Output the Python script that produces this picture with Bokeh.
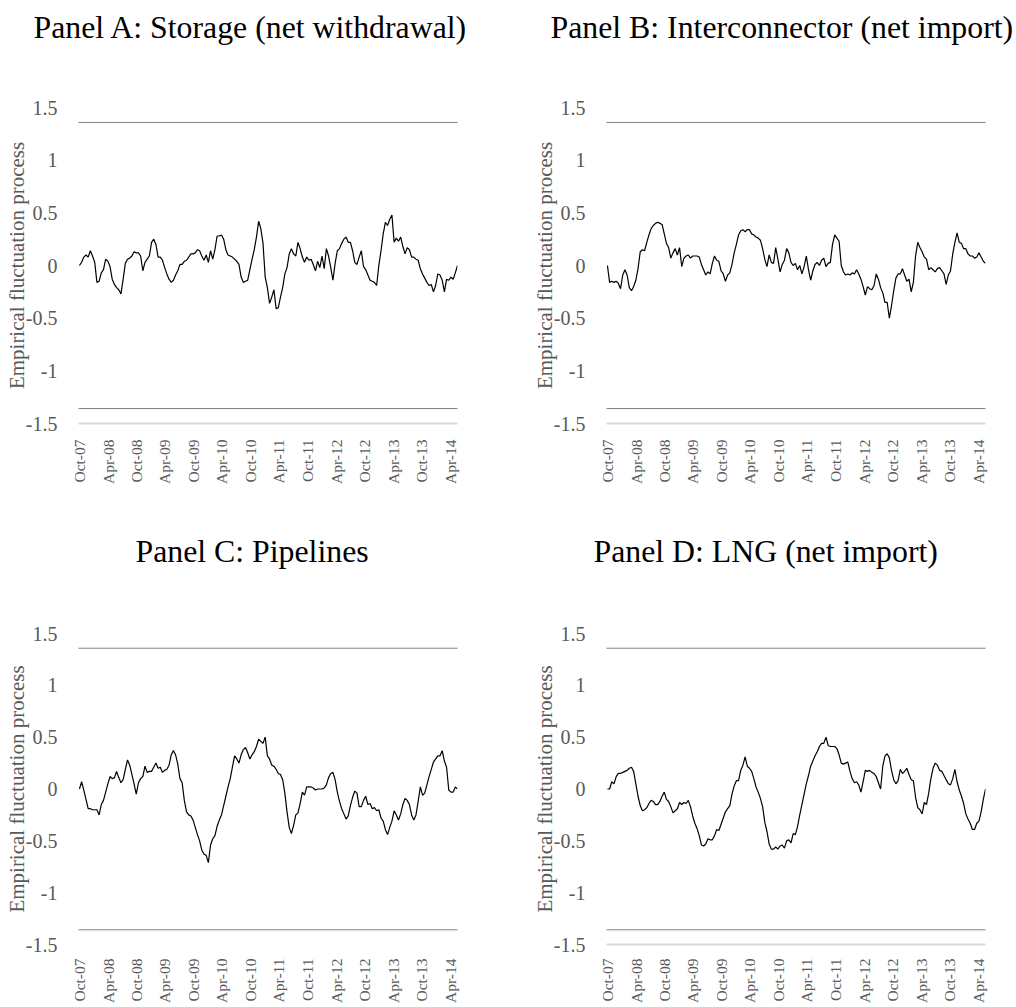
import pandas as pd
from bokeh.plotting import figure
from bokeh.layouts import column, row
from bokeh.models import Range1d, FixedTicker, CustomJSTickFormatter, Span, Title
from bokeh.embed import file_html
from bokeh.resources import INLINE

# ---------------- data ----------------
START = "2007-10-01"
STEP_DAYS = 14
X_START = "2007-09-25"
X_END = "2014-05-19"
TICK_DATES = ["2007-10-01", "2008-04-01", "2008-10-01", "2009-04-01", "2009-10-01",
              "2010-04-01", "2010-10-01", "2011-04-01", "2011-10-01", "2012-04-01",
              "2012-10-01", "2013-04-01", "2013-10-01", "2014-04-01"]
Y_TICKS = [-1.5, -1, -0.5, 0, 0.5, 1, 1.5]
CRIT = 1.358

TITLES = ["Panel A: Storage (net withdrawal)", "Panel B: Interconnector (net import)",
          "Panel C: Pipelines", "Panel D: LNG (net import)"]
Y_LABEL = "Empirical fluctuation process"

storage = [
    0.00, 0.03, 0.08, 0.10, 0.08, 0.14, 0.09, 0.03, -0.16, -0.15,
    -0.07, -0.04, 0.06, 0.04, -0.01, -0.13, -0.18, -0.21, -0.23, -0.27,
    -0.13, 0.02, 0.06, 0.07, 0.09, 0.13, 0.12, 0.12, 0.09, -0.05,
    0.03, 0.06, 0.09, 0.22, 0.25, 0.20, 0.08, 0.08, 0.05, -0.02,
    -0.08, -0.13, -0.16, -0.14, -0.09, -0.05, 0.01, 0.01, 0.04, 0.05,
    0.08, 0.11, 0.11, 0.12, 0.15, 0.14, 0.09, 0.05, 0.10, 0.03,
    0.14, 0.06, 0.15, 0.28, 0.28, 0.29, 0.25, 0.15, 0.10, 0.09,
    0.08, 0.06, 0.04, 0.01, -0.11, -0.16, -0.15, -0.14, -0.04, 0.06,
    0.15, 0.27, 0.42, 0.35, 0.21, -0.11, -0.21, -0.36, -0.30, -0.23,
    -0.41, -0.40, -0.30, -0.21, -0.08, -0.02, 0.11, 0.16, 0.11, 0.09,
    0.22, 0.16, 0.08, 0.03, 0.08, 0.05, 0.06, 0.01, -0.05, 0.04,
    -0.02, 0.09, -0.03, 0.16, 0.09, -0.02, -0.14, 0.02, 0.14, 0.16,
    0.21, 0.25, 0.27, 0.22, 0.22, 0.14, 0.03, 0.01, 0.08, 0.14,
    -0.01, -0.04, -0.09, -0.14, -0.15, -0.16, -0.19, 0.00, 0.14, 0.30,
    0.41, 0.38, 0.44, 0.48, 0.22, 0.26, 0.23, 0.27, 0.18, 0.11,
    0.17, 0.15, 0.08, 0.08, 0.06, 0.05, -0.03, -0.08, -0.12, -0.16,
    -0.19, -0.18, -0.25, -0.19, -0.08, -0.09, -0.14, -0.25, -0.13, -0.14,
    -0.11, -0.13, -0.07, 0.00]

interconnector = [
    0.00, -0.16, -0.15, -0.16, -0.15, -0.17, -0.22, -0.09, -0.04, -0.09,
    -0.21, -0.24, -0.20, -0.14, -0.03, 0.13, 0.15, 0.14, 0.22, 0.29,
    0.35, 0.38, 0.40, 0.41, 0.40, 0.39, 0.30, 0.21, 0.17, 0.07,
    0.12, 0.16, 0.10, 0.17, -0.01, 0.07, 0.09, 0.10, 0.07, 0.09,
    0.09, 0.09, 0.08, 0.01, -0.04, -0.09, -0.06, -0.08, 0.02, 0.09,
    0.05, 0.04, -0.05, -0.08, -0.15, -0.09, -0.07, 0.01, 0.12, 0.20,
    0.29, 0.33, 0.34, 0.32, 0.34, 0.34, 0.30, 0.29, 0.27, 0.26,
    0.24, 0.16, 0.06, -0.01, 0.10, 0.03, 0.02, 0.17, 0.06, -0.06,
    0.01, 0.05, 0.16, 0.12, 0.03, 0.00, 0.02, -0.04, 0.00, -0.08,
    -0.01, 0.09, -0.04, -0.14, -0.05, 0.01, 0.03, 0.00, 0.05, 0.07,
    -0.01, 0.02, 0.03, 0.20, 0.29, 0.26, 0.23, 0.00, -0.06, -0.09,
    -0.08, -0.09, -0.07, -0.08, -0.04, -0.08, -0.13, -0.20, -0.28, -0.20,
    -0.22, -0.23, -0.19, -0.08, -0.13, -0.21, -0.26, -0.35, -0.35, -0.50,
    -0.38, -0.24, -0.12, -0.08, -0.08, -0.03, -0.09, -0.15, -0.13, -0.25,
    -0.16, 0.09, 0.22, 0.17, 0.13, 0.08, 0.06, -0.04, -0.02, -0.04,
    -0.06, -0.03, -0.02, -0.05, -0.08, -0.18, -0.09, -0.05, 0.11, 0.22,
    0.31, 0.22, 0.21, 0.16, 0.16, 0.11, 0.09, 0.09, 0.07, 0.08,
    0.12, 0.08, 0.04, 0.02]

pipelines = [
    0.00, 0.07, -0.01, -0.10, -0.19, -0.19, -0.20, -0.20, -0.20, -0.25,
    -0.15, -0.11, -0.03, 0.05, 0.12, 0.10, 0.11, 0.17, 0.11, 0.06,
    0.09, 0.19, 0.28, 0.23, 0.14, 0.05, -0.05, 0.06, 0.10, 0.12,
    0.22, 0.16, 0.17, 0.17, 0.21, 0.25, 0.20, 0.21, 0.16, 0.18,
    0.19, 0.23, 0.33, 0.37, 0.33, 0.24, 0.10, 0.06, -0.11, -0.22,
    -0.25, -0.26, -0.30, -0.37, -0.44, -0.50, -0.59, -0.63, -0.64, -0.71,
    -0.54, -0.48, -0.45, -0.36, -0.30, -0.25, -0.16, -0.07, 0.02, 0.10,
    0.21, 0.32, 0.29, 0.25, 0.33, 0.38, 0.40, 0.35, 0.29, 0.33,
    0.36, 0.41, 0.48, 0.46, 0.44, 0.50, 0.32, 0.29, 0.23, 0.22,
    0.19, 0.15, 0.14, 0.09, -0.04, -0.22, -0.37, -0.43, -0.35, -0.25,
    -0.23, -0.14, -0.03, -0.06, 0.02, 0.02, 0.02, 0.01, -0.01, 0.00,
    0.00, 0.00, 0.01, 0.04, 0.11, 0.15, 0.16, 0.09, -0.03, -0.12,
    -0.19, -0.24, -0.29, -0.26, -0.16, -0.08, -0.02, -0.04, -0.17, -0.17,
    -0.11, -0.07, -0.15, -0.14, -0.19, -0.18, -0.21, -0.20, -0.28, -0.31,
    -0.39, -0.44, -0.37, -0.31, -0.21, -0.25, -0.30, -0.24, -0.15, -0.09,
    -0.11, -0.15, -0.25, -0.30, -0.25, -0.12, 0.02, -0.06, -0.04, 0.04,
    0.12, 0.19, 0.26, 0.29, 0.32, 0.32, 0.37, 0.27, 0.21, -0.01,
    -0.03, -0.03, 0.02, 0.00]

lng = [
    0.00, 0.00, 0.07, 0.05, 0.12, 0.15, 0.15, 0.16, 0.17, 0.18,
    0.20, 0.21, 0.17, 0.05, -0.07, -0.16, -0.21, -0.20, -0.18, -0.14,
    -0.11, -0.12, -0.15, -0.15, -0.12, -0.07, -0.03, -0.10, -0.12, -0.17,
    -0.23, -0.21, -0.19, -0.13, -0.15, -0.13, -0.14, -0.11, -0.17, -0.26,
    -0.33, -0.38, -0.45, -0.54, -0.55, -0.53, -0.48, -0.49, -0.49, -0.45,
    -0.39, -0.40, -0.34, -0.28, -0.22, -0.19, -0.16, -0.05, 0.03, 0.08,
    0.08, 0.18, 0.23, 0.31, 0.22, 0.20, 0.17, 0.10, 0.02, -0.03,
    -0.09, -0.17, -0.32, -0.41, -0.53, -0.58, -0.58, -0.56, -0.58, -0.55,
    -0.54, -0.57, -0.50, -0.49, -0.52, -0.43, -0.44, -0.36, -0.25, -0.15,
    -0.05, 0.05, 0.13, 0.22, 0.27, 0.32, 0.36, 0.41, 0.44, 0.44,
    0.50, 0.42, 0.41, 0.41, 0.41, 0.39, 0.33, 0.25, 0.24, 0.25,
    0.26, 0.17, 0.10, 0.06, 0.07, 0.04, -0.03, 0.07, 0.18, 0.17,
    0.18, 0.16, 0.15, 0.12, 0.06, 0.00, 0.22, 0.32, 0.34, 0.30,
    0.18, 0.09, 0.05, 0.08, 0.19, 0.15, 0.17, 0.20, 0.14, 0.09,
    0.08, -0.08, -0.18, -0.20, -0.24, -0.13, -0.15, -0.04, 0.10, 0.20,
    0.25, 0.23, 0.18, 0.17, 0.13, 0.09, 0.05, 0.04, 0.10, 0.19,
    0.07, -0.01, -0.07, -0.14, -0.24, -0.29, -0.33, -0.39, -0.39, -0.33,
    -0.31, -0.22, -0.10, 0.00]

# ---------------- styling ----------------
SERIF = "Liberation Serif"
GREY = "#595959"

XFMT = CustomJSTickFormatter(code="""
const m = ["Jan","Feb","Mar","Apr","May","Jun","Jul","Aug","Sep","Oct","Nov","Dec"];
const d = new Date(tick);
return m[d.getUTCMonth()] + "-" + String(d.getUTCFullYear()).slice(2);
""")
YFMT = CustomJSTickFormatter(code="return tick.toString();")
TICK_MS = [pd.Timestamp(d).value // 10**6 for d in TICK_DATES]


def panel(title, values, width, height, left, right, top, bottom,
          title_offset, spacer_standoff, x_label_standoff, show_axis_line=True):
    dates = pd.date_range(START, periods=len(values), freq=f"{STEP_DAYS}D")
    p = figure(width=width, height=height, x_axis_type="datetime",
               x_range=Range1d(pd.Timestamp(X_START), pd.Timestamp(X_END)),
               y_range=Range1d(-1.5, 1.5), title=None,
               output_backend="svg", toolbar_location=None,
               min_border_left=left, min_border_right=right,
               min_border_top=top, min_border_bottom=bottom)
    p.grid.visible = False
    p.outline_line_color = None
    p.background_fill_color = "white"
    p.border_fill_color = "white"

    # blank spacer next to the frame, then the real title above it
    p.add_layout(Title(text=" ", text_font=SERIF, text_font_size="31.8px",
                       standoff=spacer_standoff), "above")
    p.add_layout(Title(text=title, align="left", offset=title_offset, standoff=8,
                       text_font=SERIF, text_font_size="31.8px",
                       text_font_style="normal", text_color="black"), "above")

    for loc in (CRIT, -CRIT):
        p.add_layout(Span(location=loc, dimension="width", line_color="black",
                          line_width=1, line_dash="1 1"))

    p.line(dates, values, line_color="black", line_width=1.2)

    xa = p.xaxis[0]
    xa.ticker = FixedTicker(ticks=TICK_MS)
    xa.formatter = XFMT
    xa.major_label_orientation = 1.5707963
    xa.major_label_text_font = SERIF
    xa.major_label_text_font_size = "15.5px"
    xa.major_label_text_color = GREY
    xa.major_label_standoff = x_label_standoff
    xa.major_tick_line_color = None
    xa.minor_tick_line_color = None
    xa.axis_line_color = "#d9d9d9" if show_axis_line else None
    xa.axis_line_width = 2

    ya = p.yaxis[0]
    ya.ticker = FixedTicker(ticks=Y_TICKS)
    ya.formatter = YFMT
    ya.major_label_text_font = SERIF
    ya.major_label_text_font_size = "20px"
    ya.major_label_text_color = GREY
    ya.major_label_standoff = 15
    ya.major_tick_line_color = None
    ya.minor_tick_line_color = None
    ya.axis_line_color = None
    ya.axis_label = Y_LABEL
    ya.axis_label_text_font = SERIF
    ya.axis_label_text_font_size = "21px"
    ya.axis_label_text_font_style = "normal"
    ya.axis_label_text_color = GREY
    ya.axis_label_standoff = -6
    return p


# top row: canvases y 0-500, frames y 107-423 ; bottom row: canvases y 500-1005, frames y 633-950
pA = panel(TITLES[0], storage, 508, 500, 78, 51, 107, 77, -45, 22, 10)
pB = panel(TITLES[1], interconnector, 508, 500, 98, 31, 107, 77, -56, 22, 10)
pC = panel(TITLES[2], pipelines, 508, 505, 78, 51, 133, 55, 57, 24, 8, show_axis_line=False)
pD = panel(TITLES[3], lng, 508, 505, 98, 31, 133, 55, -13, 24, 8)

layout = column(row(pA, pB), row(pC, pD))
open("out.html", "w").write(file_html(layout, INLINE))
